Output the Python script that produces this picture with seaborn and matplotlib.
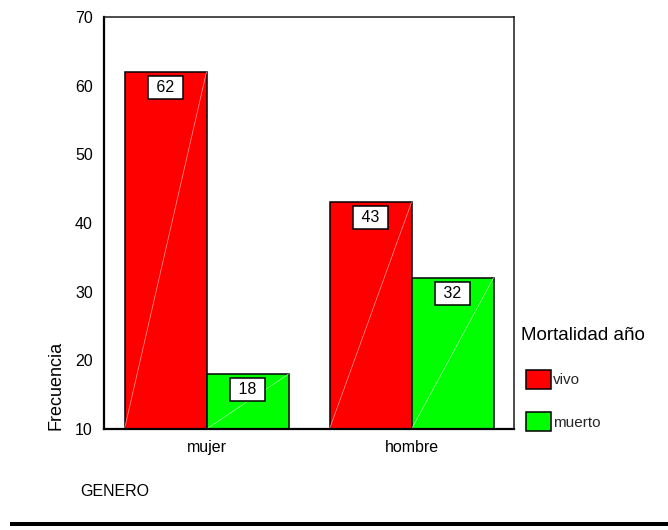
import matplotlib
matplotlib.use("Agg")
import matplotlib.pyplot as plt
from matplotlib.patches import Rectangle
import seaborn as sns
import pandas as pd

# Frequency counts by sex and one-year mortality status
generos = ["mujer", "hombre"]
estados = ["vivo", "muerto"]
vivo = [62, 43]
muerto = [18, 32]
colores = ["#ff0000", "#00ff00"]
diagonales = ["#ff9a9a", "#a6ffa6"]
y_ticks = [10, 20, 30, 40, 50, 60, 70]

df = pd.DataFrame({
    "GENERO": generos * 2,
    "Mortalidad año": [estados[0]] * 2 + [estados[1]] * 2,
    "Frecuencia": vivo + muerto,
})

sns.set_theme(style="white")
plt.rcParams["font.family"] = ["Liberation Sans", "DejaVu Sans"]

W, H = 668, 530
fig = plt.figure(figsize=(W / 100, H / 100), dpi=100)
ax = fig.add_axes([104 / W, 1 - 429 / H, 410 / W, 412 / H])

sns.barplot(
    data=df, x="GENERO", y="Frecuencia", hue="Mortalidad año",
    order=generos, hue_order=estados, palette=colores, saturation=1,
    width=0.8, edgecolor="black", linewidth=1.1, errorbar=None, ax=ax,
)

ax.set_ylim(10, 70)
ax.set_xlim(-0.5, 1.5)
ax.set_yticks(y_ticks)
ax.tick_params(axis="both", which="major", direction="out", length=2,
               width=1.6, color="black", labelsize=11.5, labelcolor="black")
ax.tick_params(axis="y", pad=6)
ax.tick_params(axis="x", pad=6)

for side in ["left", "bottom"]:
    ax.spines[side].set_linewidth(1.6)
    ax.spines[side].set_color("black")
for side in ["top", "right"]:
    ax.spines[side].set_linewidth(1.1)
    ax.spines[side].set_color("#1a1a1a")
    ax.spines[side].set_visible(True)

# Faint diagonal seam across every bar, plus boxed value labels
for cont, seam in zip(ax.containers, diagonales):
    for bar in cont:
        x0 = bar.get_x()
        w = bar.get_width()
        h = bar.get_height()
        ax.plot([x0, x0 + w], [10, h], color=seam, lw=0.5, zorder=bar.get_zorder() + 0.1)
        ax.annotate(
            f" {h:.0f} ", xy=(x0 + w / 2, h), xytext=(0, -11),
            textcoords="offset points", ha="center", va="center",
            fontsize=11.5, color="black", zorder=5,
            bbox=dict(boxstyle="square,pad=0.25", fc="white", ec="black", lw=1.1),
        )

ax.set_ylabel("Frecuencia", fontsize=13, color="black")
ax.yaxis.set_label_coords((56.5 - 104) / 410, (429 - 385.5) / 412)
ax.yaxis.label.set_va("center")
ax.yaxis.label.set_ha("center")

ax.set_xlabel("GENERO", fontsize=11.5, color="black")
ax.xaxis.set_label_coords((80 - 104) / 410, -(491 - 429) / 412)
ax.xaxis.label.set_ha("left")
ax.xaxis.label.set_va("center")

# Legend placed to the right of the plot area
handles = ax.get_legend().legend_handles
ax.get_legend().remove()
fig.text(521 / W, 1 - 335 / H, "Mortalidad año", fontsize=13.5,
         ha="left", va="center", color="black")
leg = ax.legend(
    handles, estados, loc="upper left",
    bbox_to_anchor=(526 / W, 1 - 370 / H), bbox_transform=fig.transFigure,
    frameon=False, fontsize=11, borderpad=0, borderaxespad=0,
    handlelength=1.65, handleheight=1.5, handletextpad=0.12,
    labelspacing=1.55,
)
for patch in leg.get_patches():
    patch.set_edgecolor("black")
    patch.set_linewidth(1.1)

# Heavy rule along the bottom of the figure
fig.add_artist(Rectangle((10 / W, 1 - 526 / H), 1 - 10 / W, 4 / H,
                         transform=fig.transFigure, facecolor="black",
                         edgecolor="none"))

fig.savefig("out.png", dpi=100, facecolor="white")
